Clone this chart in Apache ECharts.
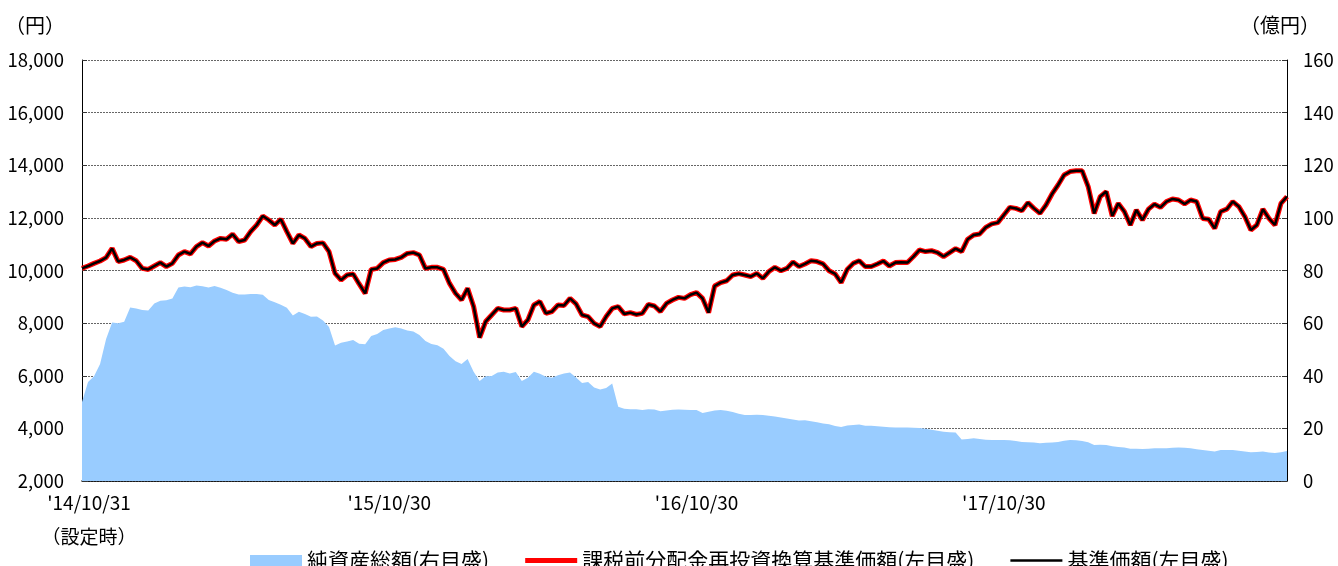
<!DOCTYPE html>
<html>
<head>
<meta charset="utf-8">
<script src="https://cdn.jsdelivr.net/npm/echarts@6/dist/echarts.min.js"></script>
<style>
  html, body { margin: 0; padding: 0; background: #fff; }
  #main { width: 1338px; height: 566px; }
</style>
</head>
<body>
<div id="main"></div>
<script>
// 週次（設定日 2014/10/31 から）
var nav = [
  10080, 10170, 10270, 10360, 10490, 10840, 10340, 10400, 10500, 10370,
  10080, 10040, 10170, 10300, 10150, 10270, 10590, 10720, 10630, 10910,
  11060, 10930, 11120, 11220, 11190, 11380, 11100, 11160, 11480, 11730,
  12070, 11920, 11730, 11950, 11480, 11030, 11350, 11220, 10910, 11030,
  11050, 10720, 9890, 9640, 9830, 9870, 9490, 9130, 10040, 10080,
  10300, 10400, 10420, 10500, 10650, 10680, 10590, 10080, 10120, 10120,
  10040, 9510, 9130, 8880, 9320, 8630, 7450, 8060, 8310, 8560,
  8500, 8500, 8560, 7870, 8120, 8690, 8820, 8370, 8440, 8690,
  8670, 8940, 8730, 8310, 8250, 7990, 7870, 8250, 8560, 8630,
  8350, 8400, 8330, 8370, 8710, 8650, 8440, 8750, 8880, 8980,
  8940, 9080, 9160, 8940, 8400, 9410, 9540, 9610, 9830, 9880,
  9830, 9770, 9890, 9700, 9960, 10120, 9990, 10080, 10320, 10150,
  10250, 10370, 10340, 10250, 9990, 9870, 9540, 10040, 10270, 10370,
  10150, 10150, 10250, 10360, 10170, 10300, 10310, 10300, 10530, 10780,
  10720, 10750, 10680, 10530, 10680, 10830, 10720, 11190, 11350, 11390,
  11640, 11770, 11820, 12110, 12400, 12360, 12270, 12580, 12360, 12170,
  12490, 12910, 13250, 13630, 13760, 13790, 13790, 13190, 12170, 12810,
  13000, 12070, 12550, 12240, 11730, 12300, 11920, 12330, 12520, 12400,
  12620, 12720, 12680, 12530, 12680, 12620, 11980, 11950, 11600, 12240,
  12330, 12620, 12430, 12050, 11540, 11730, 12330, 11980, 11730, 12550,
  12810
];
// 分配実績なしのため基準価額と同値
var navReinvested = nav;
var netAssets = [
  30.0, 37.6, 39.8, 44.5, 54.0, 60.2, 60.0, 60.5, 65.9, 65.6,
  65.0, 64.8, 67.5, 68.5, 68.7, 69.4, 73.5, 73.9, 73.6, 74.3,
  74.0, 73.5, 74.1, 73.4, 72.6, 71.5, 70.9, 70.9, 71.1, 71.1,
  70.8, 68.8, 67.9, 67.0, 65.8, 62.9, 64.3, 63.5, 62.4, 62.5,
  61.0, 58.5, 51.5, 52.5, 53.0, 53.6, 52.2, 52.0, 55.1, 55.9,
  57.4, 58.0, 58.4, 58.0, 57.2, 56.8, 55.5, 53.2, 52.1, 51.6,
  50.3, 47.5, 45.5, 44.5, 46.4, 41.5, 38.0, 39.8, 39.9, 41.2,
  41.5, 40.9, 41.4, 38.0, 39.2, 41.5, 40.8, 39.6, 39.2, 40.2,
  40.9, 41.2, 39.3, 37.2, 37.6, 35.5, 34.8, 35.3, 37.1, 28.2,
  27.5, 27.3, 27.3, 27.0, 27.3, 27.2, 26.5, 26.8, 27.1, 27.2,
  27.1, 27.0, 27.0, 25.8, 26.3, 26.8, 27.0, 26.7, 26.2, 25.6,
  25.1, 25.1, 25.2, 25.1, 24.8, 24.5, 24.1, 23.8, 23.4, 23.0,
  23.1, 22.7, 22.3, 21.9, 21.6, 20.9, 20.5, 21.1, 21.3, 21.5,
  21.0, 21.0, 20.8, 20.6, 20.4, 20.3, 20.3, 20.3, 20.2, 20.1,
  19.9, 19.5, 19.1, 18.7, 18.5, 18.4, 15.8, 16.0, 16.2, 16.0,
  15.7, 15.6, 15.6, 15.6, 15.5, 15.2, 14.8, 14.7, 14.6, 14.3,
  14.5, 14.6, 14.8, 15.3, 15.6, 15.5, 15.2, 14.7, 13.7, 13.8,
  13.7, 13.2, 12.9, 12.7, 12.3, 12.3, 12.2, 12.3, 12.4, 12.4,
  12.4, 12.6, 12.7, 12.6, 12.4, 12.1, 11.8, 11.5, 11.2, 11.8,
  11.8, 11.8, 11.5, 11.2, 10.9, 11.0, 11.2, 10.8, 10.6, 10.9,
  11.4
];
// 目盛ラベル（週番号: ラベル）
var tickLabels = {
  0: "'14/10/31\n（設定時）",
  51: "'15/10/30",
  102: "'16/10/30",
  153: "'17/10/30"
};
var categories = nav.map(function (v, i) { return tickLabels[i] || ''; });

var FONT = '"Noto Sans CJK JP", "Liberation Sans", sans-serif';

var myChart = echarts.init(document.getElementById('main'));
var option = {
  animation: false,
  textStyle: { fontFamily: FONT, color: '#000' },
  grid: { left: 82, right: 51, top: 60, bottom: 85 },
  graphic: [
    { type: 'text', left: 5, top: 15, style: { text: '（円）', font: '20px ' + FONT, fill: '#000' } },
    { type: 'text', left: 1240, top: 15, style: { text: '（億円）', font: '20px ' + FONT, fill: '#000' } }
  ],
  legend: {
    left: 245,
    top: 545,
    itemGap: 36,
    itemWidth: 52,
    itemHeight: 11,
    textStyle: { fontFamily: FONT, fontSize: 21, color: '#000' },
    data: [
      { name: '純資産総額(右目盛)', icon: 'rect' },
      { name: '課税前分配金再投資換算基準価額(左目盛)', icon: 'path://M0,0H52V5H0Z' },
      { name: '基準価額(左目盛)', icon: 'path://M0,0H52V2.5H0Z' }
    ]
  },
  xAxis: {
    type: 'category',
    boundaryGap: false,
    data: categories,
    axisLine: { lineStyle: { color: '#000', width: 1.5 } },
    axisTick: {
      inside: true,
      length: 6,
      lineStyle: { color: '#555' },
      interval: function (i, v) { return v !== '' && i !== 0; }
    },
    axisLabel: {
      interval: function (i, v) { return v !== ''; },
      fontSize: 19,
      lineHeight: 34,
      margin: 5,
      color: '#000',
      formatter: function (v, i) {
        if (i === 0) {
          return v.split('\n').map(function (s) { return '{first|' + s + '}'; }).join('\n');
        }
        return v;
      },
      rich: {
        first: { fontSize: 19, lineHeight: 34, padding: [0, 0, 0, 14] }
      }
    },
    splitLine: { show: false }
  },
  yAxis: [
    {
      type: 'value',
      min: 2000,
      max: 18000,
      interval: 2000,
      axisLine: { show: true, lineStyle: { color: '#000' } },
      axisTick: { show: true, inside: true, length: 5, lineStyle: { color: '#333' } },
      axisLabel: {
        fontSize: 18.5,
        margin: 18,
        color: '#000',
        formatter: function (v) { return v.toLocaleString('en-US'); }
      },
      splitLine: { show: true, lineStyle: { color: '#666', type: [2, 1], width: 1 } }
    },
    {
      type: 'value',
      min: 0,
      max: 160,
      interval: 20,
      axisLine: { show: true, lineStyle: { color: '#000' } },
      axisTick: { show: true, inside: true, length: 5, lineStyle: { color: '#333' } },
      axisLabel: { fontSize: 18.5, margin: 16, color: '#000' },
      splitLine: { show: false }
    }
  ],
  series: [
    {
      name: '純資産総額(右目盛)',
      type: 'line',
      yAxisIndex: 1,
      data: netAssets,
      symbol: 'none',
      lineStyle: { width: 0 },
      itemStyle: { color: '#99CCFF' },
      areaStyle: { color: '#99CCFF', opacity: 1 }
    },
    {
      name: '課税前分配金再投資換算基準価額(左目盛)',
      type: 'line',
      data: navReinvested,
      symbol: 'none',
      lineStyle: { color: '#FF0000', width: 5 },
      itemStyle: { color: '#FF0000' }
    },
    {
      name: '基準価額(左目盛)',
      type: 'line',
      data: nav,
      symbol: 'none',
      lineStyle: { color: '#000', width: 2.5 },
      itemStyle: { color: '#000' }
    }
  ]
};
myChart.setOption(option);
</script>
</body>
</html>
